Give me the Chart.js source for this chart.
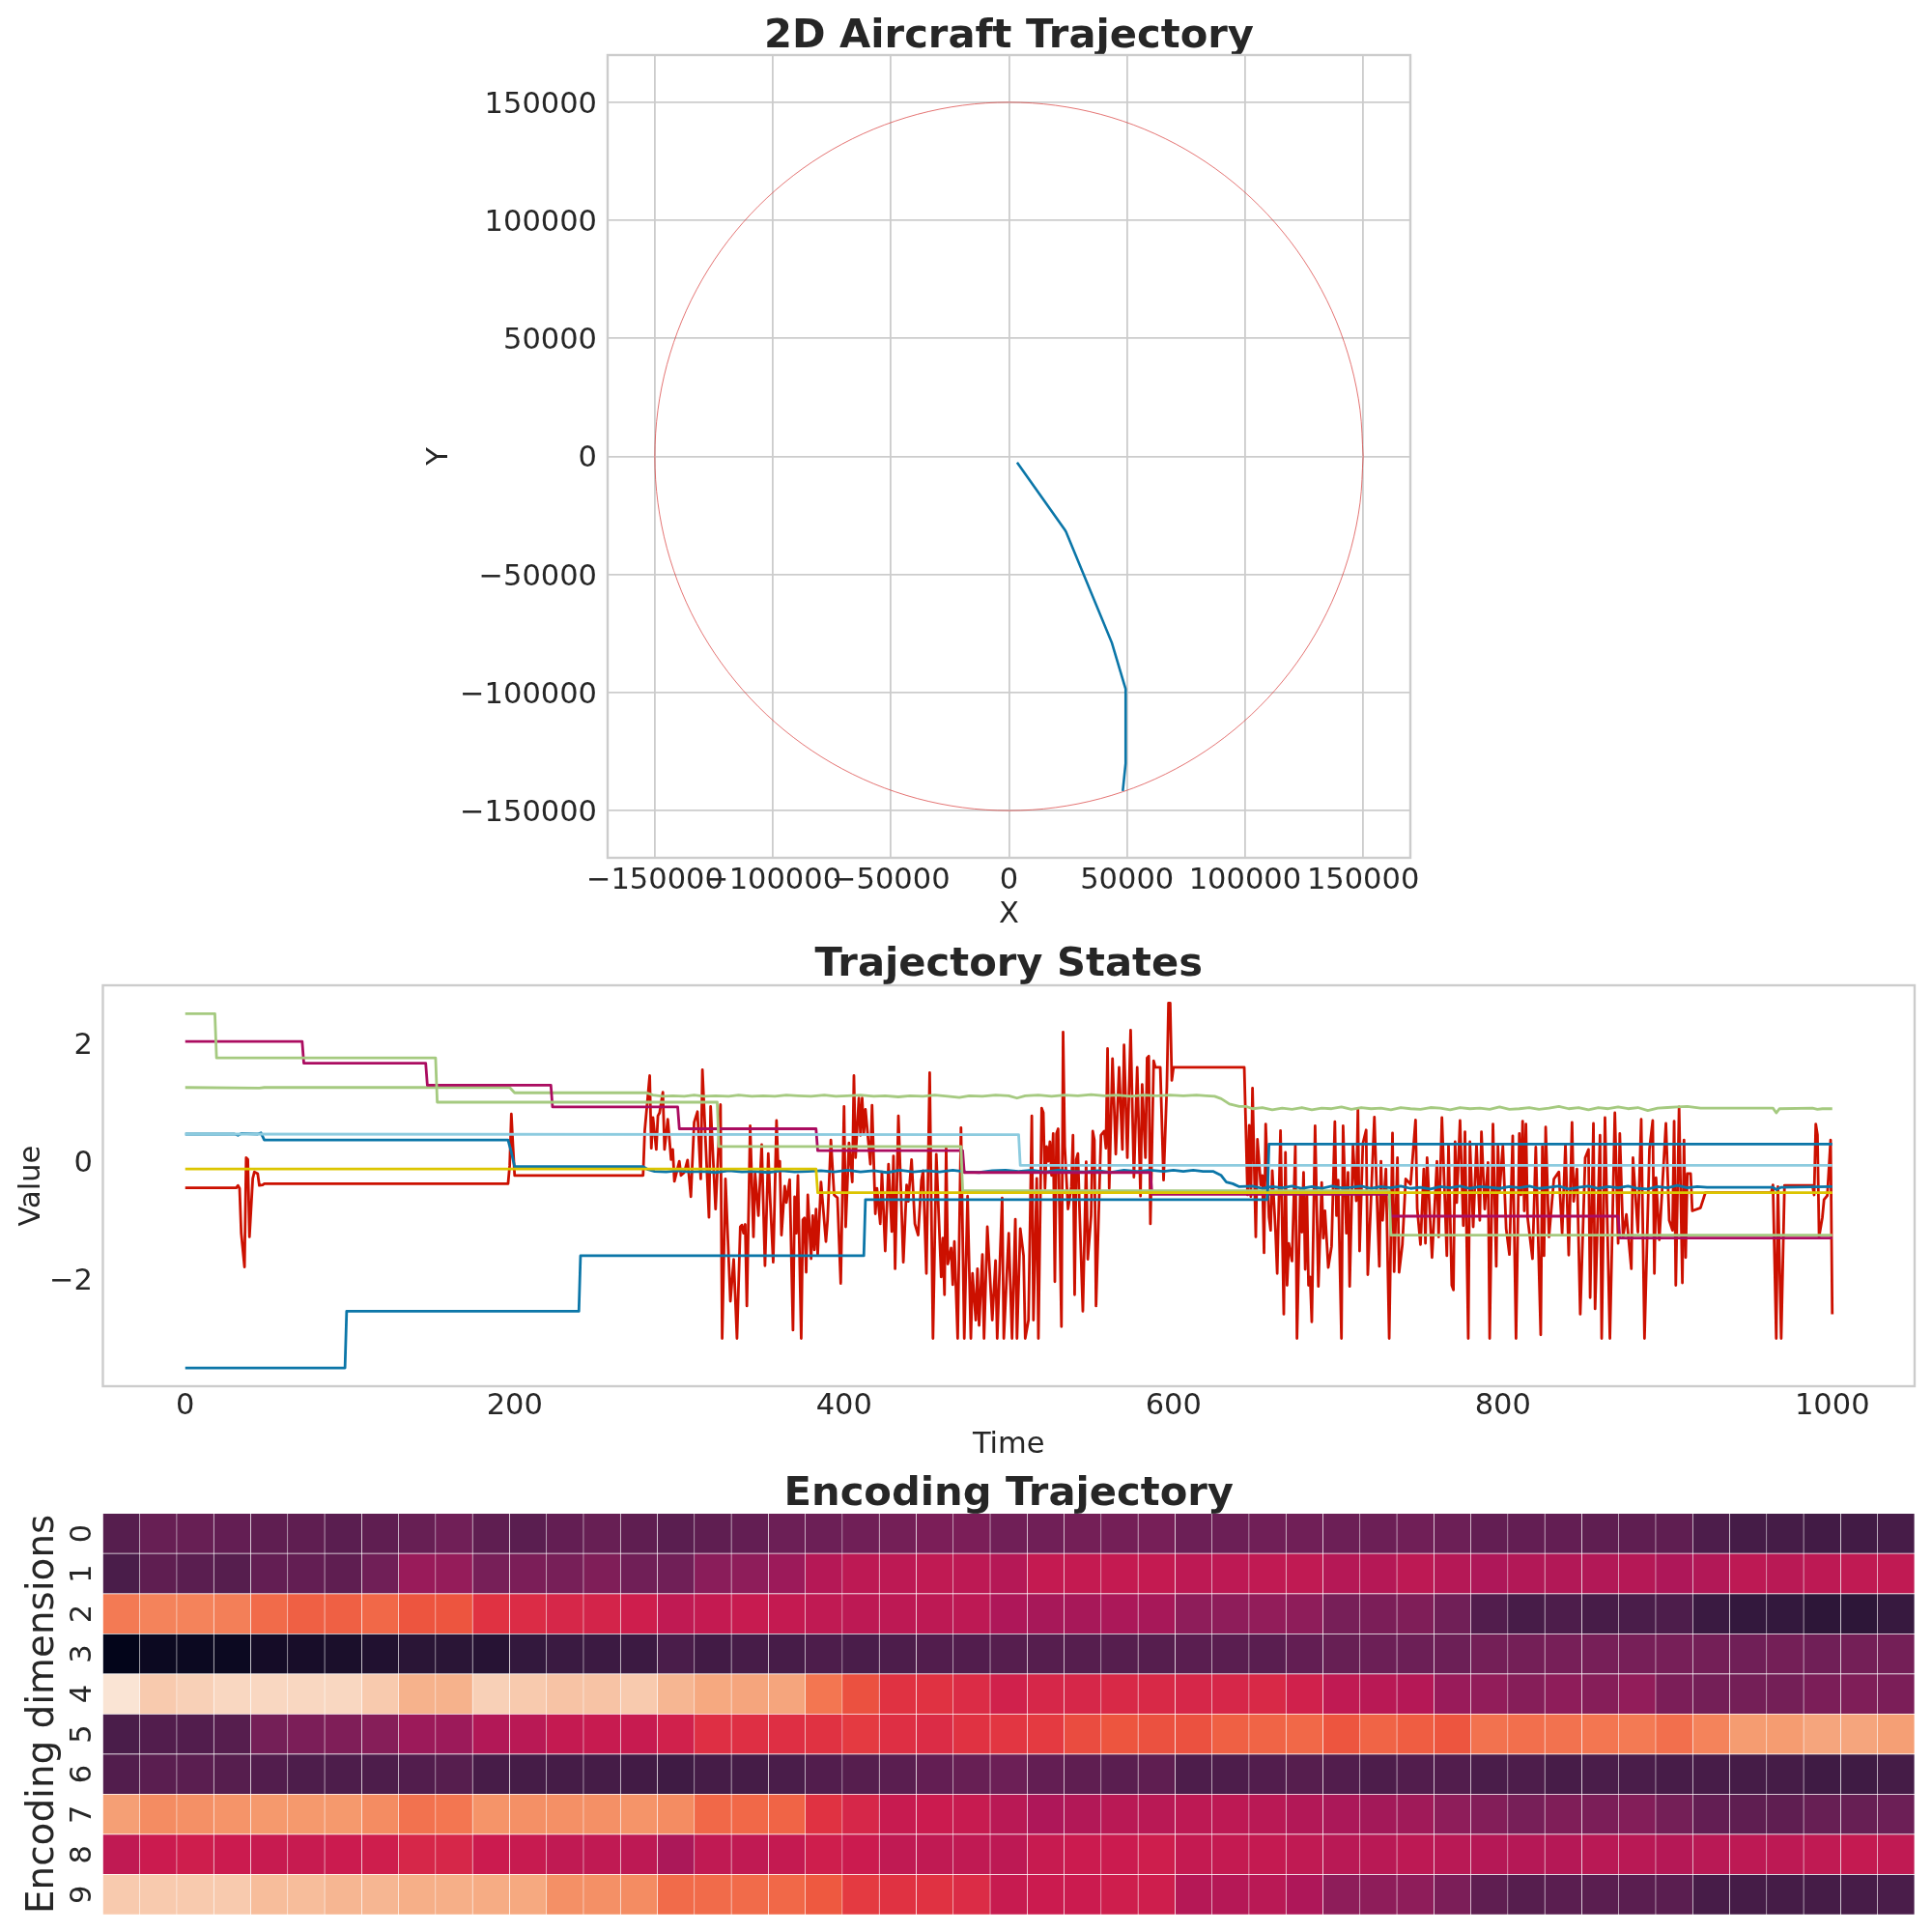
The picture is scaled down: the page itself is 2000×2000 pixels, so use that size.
<!DOCTYPE html>
<html>
<head>
<meta charset="utf-8">
<title>Aircraft trajectory</title>
<script src="https://cdn.jsdelivr.net/npm/chart.js@4/dist/chart.umd.min.js"></script>
<style>
	body { margin: 0; background: #fff; }
	canvas { position: absolute; left: 0; }
</style>
</head>
<body>
<canvas id="trajectory" width="2000" height="975" style="top:0"></canvas>
<canvas id="states" width="2000" height="545" style="top:975px"></canvas>
<canvas id="encoding" width="2000" height="480" style="top:1520px"></canvas>
<script>
// top panel
const planeTicks = [-150000, -100000, -50000, 0, 50000, 100000, 150000];
const circleX = [150000, 148717, 144889, 138582, 129904, 119003, 106066, 91314, 75000, 57403, 38823, 19579, 0, -19579, -38823, -57403, -75000, -91314, -106066, -119003, -129904, -138582, -144889, -148717, -150000, -148717, -144889, -138582, -129904, -119003, -106066, -91314, -75000, -57403, -38823, -19579, 0, 19579, 38823, 57403, 75000, 91314, 106066, 119003, 129904, 138582, 144889, 148717, 150000];
const circleY = [0, 19579, 38823, 57403, 75000, 91314, 106066, 119003, 129904, 138582, 144889, 148717, 150000, 148717, 144889, 138582, 129904, 119003, 106066, 91314, 75000, 57403, 38823, 19579, 0, -19579, -38823, -57403, -75000, -91314, -106066, -119003, -129904, -138582, -144889, -148717, -150000, -148717, -144889, -138582, -129904, -119003, -106066, -91314, -75000, -57403, -38823, -19579, 0];
const pathX = [3440, 23800, 24200, 43600, 48800, 49400, 49400, 48200];
const pathY = [-2600, -31300, -32000, -79000, -96500, -98500, -130000, -141700];

// middle panel, [time, value]
const timeTicks = [0, 200, 400, 600, 800, 1000];
const valueTicks = [-2, 0, 2];
const yellowState = [[0,-.13],[383,-.13],[384,-.53],[1000,-.53]];
const cyanState = [[0,.46],[506,.45],[507,-.07],[1000,-.07]];
const blueStep = [[0,-3.5],[97,-3.5],[98,-2.54],[239,-2.54],[240,-1.6],[412,-1.6],[413,-.65],[657,-.65],[658,.29],[1000,.29]];
const greenStep = [[0,2.5],[18,2.5],[19,1.75],[152,1.75],[153,1],[323,1],[324,.25],[471,.25],[472,-.5],[731,-.5],[732,-1.25],[1000,-1.25]];
const magentaStep = [[0,2.03],[71,2.03],[72,1.66],[146,1.66],[147,1.29],[222,1.29],[223,.92],[299,.92],[300,.55],[383,.55],[384,.18],[472,.18],[473,-.19],[586,-.19],[587,-.56],[731,-.56],[732,-.93],[870,-.93],[871,-1.3],[1000,-1.3]];
const greenWobble = [[0,1.25],[45,1.24],[48,1.25],[197,1.25],[200,1.16],[280,1.16],[284,1.12],[290,1.1],[296,1.11],[303,1.1],[309,1.12],[315,1.1],[322,1.11],[330,1.1],[336,1.12],[344,1.1],[351,1.11],[358,1.1],[365,1.12],[372,1.11],[380,1.1],[388,1.12],[395,1.1],[402,1.11],[410,1.12],[418,1.1],[425,1.11],[433,1.09],[440,1.11],[448,1.1],[455,1.12],[463,1.1],[470,1.08],[476,1.11],[484,1.1],[492,1.12],[500,1.11],[505,1.07],[510,1.11],[518,1.12],[526,1.1],[534,1.12],[542,1.11],[550,1.13],[558,1.11],[566,1.12],[574,1.1],[582,1.12],[590,1.11],[598,1.12],[606,1.11],[614,1.12],[620,1.11],[625,1.1],[629,1.06],[634,.97],[640,.93],[644,.93],[648,.89],[654,.91],[660,.87],[666,.9],[672,.88],[678,.91],[684,.87],[690,.9],[696,.89],[702,.92],[708,.88],[714,.91],[720,.89],[726,.9],[732,.87],[738,.91],[744,.89],[750,.88],[756,.91],[762,.9],[768,.87],[774,.91],[780,.89],[786,.9],[792,.88],[798,.92],[804,.88],[810,.89],[816,.91],[822,.88],[828,.9],[834,.93],[840,.89],[846,.91],[852,.87],[858,.91],[864,.89],[870,.92],[876,.89],[882,.91],[888,.86],[894,.9],[900,.91],[906,.92],[912,.93],[920,.9],[964,.9],[966,.82],[968,.89],[988,.9],[991,.88],[994,.89],[1000,.89]];
const blueWobble = [[0,.46],[30,.46],[32,.44],[34,.47],[44,.46],[46,.48],[48,.36],[196,.36],[198,.15],[200,-.09],[278,-.09],[281,-.14],[285,-.17],[292,-.18],[299,-.16],[306,-.18],[314,-.17],[322,-.19],[330,-.16],[338,-.18],[346,-.17],[354,-.19],[362,-.16],[370,-.18],[378,-.17],[386,-.16],[394,-.18],[402,-.15],[410,-.18],[418,-.16],[426,-.19],[434,-.15],[442,-.18],[450,-.16],[458,-.18],[466,-.15],[474,-.18],[482,-.19],[490,-.16],[498,-.15],[506,-.17],[514,-.15],[522,-.18],[530,-.15],[538,-.17],[546,-.18],[554,-.16],[562,-.19],[570,-.15],[578,-.17],[586,-.15],[594,-.17],[600,-.15],[606,-.17],[612,-.15],[618,-.17],[624,-.17],[629,-.24],[632,-.35],[636,-.38],[640,-.43],[648,-.42],[654,-.46],[660,-.43],[666,-.45],[672,-.42],[678,-.46],[684,-.43],[690,-.46],[696,-.42],[702,-.45],[708,-.44],[714,-.42],[720,-.46],[726,-.43],[732,-.45],[738,-.42],[744,-.46],[750,-.44],[756,-.47],[762,-.43],[768,-.45],[774,-.42],[780,-.46],[786,-.43],[792,-.44],[798,-.46],[804,-.43],[810,-.45],[816,-.42],[822,-.46],[828,-.44],[834,-.42],[840,-.47],[846,-.44],[852,-.42],[858,-.46],[864,-.43],[870,-.45],[876,-.42],[882,-.46],[888,-.47],[894,-.43],[900,-.45],[906,-.41],[912,-.45],[918,-.43],[924,-.44],[964,-.44],[966,-.48],[969,-.44],[1000,-.43]];
const redState = [[0,-.45],[31,-.45],[32,-.41],[33,-.46],[34,-1.22],[36,-1.79],[37,.06],[38,.03],[39,-1.28],[41,-.29],[42,-.18],[44,-.21],[45,-.41],[47,-.4],[48,-.38],[196,-.38],[197,-.07],[198,.8],[199,.25],[200,-.24],[278,-.24],
[279,.52],[282,1.45],[283,.22],[284,.74],[286,.2],[287,.77],[288,.82],[290,1.17],[291,.2],[293,.71],[295,.03],[296,.2],[297,-.34],[300,0],[301,-.24],[303,-.19],[305,.02],[307,-.6],[309,.66],[311,.84],[313,-.3],[314,1.55],[318,-.95],[319,.93],[322,-.81],[325,.96],[326,-3],[328,-.3],[331,-2.37],[333,-1.66],[335,-3],[337,-1.11],[338,-1.08],[339,-1.22],[340,-1.07],[341,-2.45],[343,.6],[345,-1.28],[346,-.21],[348,-.92],[350,.28],[352,-1.77],[354,.13],[355,-.56],[357,-1.71],[359,.69],[360,-.1],[361,0],[362,-1.25],[364,-.42],[365,-.7],[367,-.31],[369,-2.86],[370,-.6],[371,-1.22],[372,-.24],[374,-3],[375,-.99],[376,-.96],[377,-1.88],[378,-.57],[380,-1.65],[381,-.92],[382,-1.5],[383,-.81],[384,-1.58],[386,-.35],[389,-1.36],[390,-1],[392,.36],[394,-.57],[396,-.62],[398,-2.07],[400,.93],[401,-1.11],[403,.31],[405,-.35],[406,1.45],[407,.06],[409,1.07],[410,.44],[411,1.07],[412,.47],[413,.88],[416,-.05],[417,.95],[419,-.89],[420,-.46],[422,-1.06],[423,-.18],[425,-1.52],[427,-.05],[429,-1.19],[430,.09],[431,-1.82],[433,.77],[436,-1.71],[438,-.4],[439,-.68],[441,.03],[443,-1.06],[445,-1.25],[447,-.32],[448,-.16],[450,-1.9],[452,1.5],[454,-3],[456,.12],[459,-1.96],[460,-1.3],[461,-2.26],[462,.22],[463,-1.74],[465,-1.47],[466,-2.09],[467,-1.36],[469,-3],[471,.57],[473,-3],[475,-.59],[477,-3],[478,-1.9],[480,-2.69],[481,-1.82],[482,-2.78],[484,-1.58],[485,-3],[487,-1.11],[490,-2.69],[492,-1.68],[493,-3],[496,-.62],[497,-3],[500,-1.22],[502,-3],[504,-.98],[505,-3],[507,-1.14],[509,-1.6],[510,-3],[512,-2.69],[514,.77],[515,-2.69],[517,-.29],[518,-3],[520,.9],[521,.82],[522,-.46],[523,.25],[524,0],[525,.33],[526,-.24],[527,.47],[528,-2.04],[529,.47],[530,.55],[532,-2.8],[533,2.19],[534,.25],[536,-.81],[538,-.43],[539,.44],[540,-2.26],[541,.03],[542,.13],[543,-.84],[545,-2.54],[547,-.01],[548,-1.66],[550,-.92],[551,.51],[552,.36],[553,-2.45],[555,-.51],[556,.44],[558,.51],[559,.22],[560,1.91],[561,-.46],[563,1.74],[565,.12],[567,1.59],[569,.2],[570,1.97],[572,.06],[574,2.22],[576,-.27],[578,1.59],[580,-.59],[581,1.3],[583,.06],[584,1.75],[585,1.78],[586,-1.06],[588,1.7],[589,1.59],[592,1.59],[594,-.32],[596,1.26],[597,2.68],[598,2.68],[599,1.37],[600,1.59],
[643,1.59],[645,-.57],[646,.61],[647,-.6],[648,1.24],[650,-1.28],[651,.37],[653,-.4],[654,-.24],[655,-1.55],[656,.63],[658,-.95],[659,-1.17],[660,-.16],[662,-1.2],[663,-1.9],[665,.52],[667,-2.59],[668,.15],[669,-2.1],[670,-1.39],[672,-1.69],[674,.26],[675,-3],[677,-.49],[678,-1.2],[679,-.19],[680,-1.83],[681,-.51],[682,-2.1],[683,-1.96],[684,-2.72],[686,.6],[688,-2.12],[690,-.36],[691,-1.3],[692,-.84],[694,-1.8],[696,-1.44],[698,.67],[699,-.92],[700,-.32],[702,-3],[703,.6],[705,-1.22],[706,-.19],[707,-2.12],[709,.26],[711,-.67],[712,.88],[713,-1.52],[715,.3],[717,.53],[718,-1.92],[720,-.62],[722,.75],[724,-1],[725,-1.78],[726,0],[727,-1],[729,-.13],[731,-3],[733,.48],[734,-1.87],[736,.06],[737,-1.88],[739,-1.41],[741,-.3],[744,-.39],[747,.7],[748,-.8],[750,-1.41],[752,-.13],[753,-1.39],[754,.06],[757,-1.63],[760,0],[761,-1.28],[763,.74],[766,-1.6],[767,.28],[769,-2.1],[770,-2.18],[771,.33],[772,-.7],[774,.69],[776,-1.09],[777,.5],[779,-3],[780,.33],[782,-1.11],[784,.28],[786,-1],[787,.5],[789,-.81],[791,-.02],[792,-3],[794,.63],[796,-1.78],[797,.26],[798,-.5],[800,.26],[802,-1.14],[804,-1.58],
[806,.43],[808,-3],[810,.47],[811,-.57],[812,.68],[813,-.84],[814,.63],[815,-.95],[818,-1.65],[820,.24],[823,-2.94],[824,.25],[825,-1.6],[826,.58],[828,-1.28],[831,-.3],[834,-.18],[836,-1.22],[838,.28],[840,-1.59],[842,.66],[843,-.68],[845,-.13],[847,-2.59],[850,.06],[852,.2],[853,-2.31],[855,.64],[856,-2.5],[859,.44],[860,-3],[862,.74],[865,-3],[868,.82],[870,-1.39],[871,.47],[873,-1.28],[875,-.9],[878,-1.82],[879,.06],[882,-1.2],[884,.71],[886,-3],[889,.2],[891,.69],[892,-1.9],[893,-.28],[895,-1.33],[899,.64],[901,-1],[903,-1.17],[904,.68],[905,-2.1],[907,.92],[909,-2.06],[910,.36],[911,-1.63],[912,-.21],[914,-.21],[915,-.84],[920,-.79],[923,-.53],[963,-.53],[964,-.4],[966,-3],[967,-.43],[969,-3],[971,-.41],[988,-.41],[989,-.57],[990,.63],[991,.45],[992,-1.28],[994,-.95],[995,-.65],[997,-.58],[999,.36],[1000,-2.59]];

// bottom panel, one row per encoding dimension, position along the rocket colormap
const encodingLabels = ['0', '1', '2', '3', '4', '5', '6', '7', '8', '9'];
const encodingValues = [
	[.19,.23,.23,.22,.21,.21,.2,.21,.23,.25,.21,.2,.22,.23,.21,.2,.21,.22,.24,.24,.25,.26,.28,.28,.25,.25,.26,.26,.27,.24,.24,.25,.25,.24,.24,.25,.24,.22,.22,.22,.21,.21,.21,.17,.14,.14,.13,.13,.15],
	[.16,.21,.2,.19,.22,.22,.21,.25,.36,.35,.27,.28,.27,.29,.25,.25,.32,.33,.37,.44,.46,.46,.47,.46,.44,.48,.48,.48,.48,.46,.46,.47,.47,.44,.44,.46,.44,.42,.43,.43,.43,.44,.42,.43,.46,.45,.46,.47,.47],
	[.76,.78,.78,.77,.72,.69,.69,.71,.66,.66,.58,.56,.54,.53,.51,.47,.48,.49,.48,.47,.46,.46,.46,.46,.42,.4,.4,.41,.4,.33,.33,.34,.33,.27,.28,.29,.25,.18,.15,.17,.15,.16,.17,.1,.08,.08,.07,.07,.09],
	[0,.015,.015,.015,.03,.035,.04,.05,.065,.065,.06,.08,.1,.11,.11,.16,.13,.15,.15,.17,.16,.17,.18,.18,.19,.19,.19,.19,.19,.2,.2,.2,.22,.23,.24,.24,.24,.26,.26,.27,.27,.27,.27,.26,.25,.26,.25,.26,.26],
	[.99,.95,.96,.97,.97,.97,.97,.95,.91,.91,.96,.95,.94,.94,.95,.92,.88,.87,.87,.75,.65,.58,.58,.56,.52,.54,.54,.55,.55,.54,.54,.55,.52,.47,.45,.44,.36,.34,.31,.33,.31,.34,.28,.26,.26,.26,.28,.29,.28],
	[.16,.18,.18,.19,.26,.28,.29,.31,.37,.37,.43,.45,.48,.49,.49,.52,.57,.57,.57,.58,.6,.57,.56,.58,.59,.6,.64,.66,.65,.65,.69,.7,.71,.66,.7,.68,.66,.74,.73,.74,.75,.76,.73,.78,.84,.84,.87,.87,.85],
	[.18,.2,.2,.19,.18,.17,.17,.17,.18,.19,.15,.14,.14,.14,.13,.12,.14,.14,.16,.18,.19,.2,.22,.23,.24,.22,.21,.2,.21,.17,.17,.18,.19,.18,.17,.18,.18,.16,.17,.15,.16,.16,.15,.15,.14,.14,.12,.12,.14],
	[.85,.8,.81,.82,.83,.83,.83,.8,.74,.75,.82,.81,.81,.81,.82,.8,.71,.71,.7,.58,.54,.49,.5,.49,.45,.42,.43,.45,.45,.46,.46,.45,.43,.41,.39,.38,.33,.3,.27,.29,.28,.3,.26,.22,.21,.21,.23,.23,.24],
	[.47,.5,.51,.5,.49,.49,.5,.51,.54,.54,.5,.49,.47,.47,.46,.41,.47,.47,.48,.51,.5,.47,.47,.47,.46,.49,.5,.5,.51,.48,.48,.48,.47,.45,.45,.46,.45,.44,.44,.44,.45,.45,.44,.45,.46,.46,.47,.48,.47],
	[.95,.95,.95,.95,.93,.93,.92,.92,.9,.9,.89,.88,.81,.81,.8,.72,.72,.72,.71,.67,.6,.58,.58,.56,.49,.5,.5,.51,.51,.44,.44,.45,.42,.33,.33,.33,.28,.21,.19,.2,.2,.2,.2,.15,.14,.14,.14,.15,.16]
];

const FONT = '"DejaVu Sans"';
const INK = '#262626';
const LIGHT = '#cccccc';
const rocketStops = [
	[0, [3, 5, 26]], [.083, [53, 25, 62]], [.167, [76, 29, 75]], [.25, [112, 31, 87]], [.333, [143, 29, 90]],
	[.417, [173, 23, 89]], [.5, [203, 27, 79]], [.583, [225, 51, 66]], [.667, [238, 88, 63]], [.75, [243, 118, 81]],
	[.833, [245, 154, 110]], [.917, [246, 180, 143]], [1, [250, 235, 221]]
];

function rocket(v) {
	let i = 0;
	while (i < rocketStops.length - 2 && v > rocketStops[i + 1][0]) i++;
	const a = rocketStops[i], b = rocketStops[i + 1];
	const f = (v - a[0]) / (b[0] - a[0]);
	const c = a[1].map((n, k) => Math.round(n + (b[1][k] - n) * f));
	return 'rgb(' + c.join(',') + ')';
}

function minus(v) {
	return String(v).replace('-', '\u2212');
}

function pairs(list) {
	return list.map(p => ({x: p[0], y: p[1]}));
}

function lineSet(list, color) {
	return {data: pairs(list), borderColor: color, borderWidth: 2.8, pointRadius: 0, showLine: true, fill: false, borderJoinStyle: 'round'};
}

const spines = {
	id: 'spines',
	afterDatasetsDraw(chart) {
		const a = chart.chartArea, ctx = chart.ctx;
		ctx.save();
		ctx.strokeStyle = LIGHT;
		ctx.lineWidth = 2.4;
		ctx.strokeRect(a.left, a.top, a.right - a.left, a.bottom - a.top);
		ctx.restore();
	}
};

function titleOpts(text, top, bottom) {
	return {display: true, fullSize: false, text: text, color: INK, font: {family: FONT, size: 41.67, weight: 'bold', lineHeight: 1}, padding: {top: top, bottom: bottom}};
}

function tickOpts(padding, fmt, shift) {
	return {color: INK, font: {family: FONT, size: 30.5}, padding: padding, labelOffset: shift || 0, autoSkip: false, maxRotation: 0, callback: fmt};
}

function axisTitle(text, pad) {
	return {display: true, text: text, color: INK, font: {family: FONT, size: 30.5}, padding: pad};
}

new Chart(document.getElementById('trajectory'), {
	type: 'scatter',
	data: {datasets: [
		{data: pathX.map((x, i) => ({x: x, y: pathY[i]})), borderColor: '#0b76a8', borderWidth: 2.6, pointRadius: 0, showLine: true},
		{data: circleX.map((x, i) => ({x: x, y: circleY[i]})), borderColor: '#d93a38', borderWidth: 0.7, pointRadius: 0, showLine: true, tension: 0.33}
	]},
	options: {
		responsive: false, animation: false, devicePixelRatio: 1,
		layout: {padding: {left: 429, right: 540, top: 0, bottom: 7}},
		plugins: {legend: {display: false}, tooltip: {enabled: false}, title: titleOpts('2D Aircraft Trajectory', 17.7, -2.37)},
		scales: {
			x: {
				type: 'linear', min: -170000, max: 170000,
				grid: {color: LIGHT, lineWidth: 1.8, drawTicks: false},
				border: {display: false},
				ticks: tickOpts(6, minus),
				title: axisTitle('X', {top: 0, bottom: 2.2}),
				afterBuildTicks(s) { s.ticks = planeTicks.map(v => ({value: v})); },
				afterFit(s) { s.height = 80; }
			},
			y: {
				type: 'linear', min: -170000, max: 170000,
				grid: {color: LIGHT, lineWidth: 1.8, drawTicks: false},
				border: {display: false},
				ticks: tickOpts(11, minus, 3),
				title: axisTitle('Y', {top: 7.7, bottom: 0}),
				afterBuildTicks(s) { s.ticks = planeTicks.map(v => ({value: v})); },
				afterFit(s) { s.width = 200; }
			}
		}
	},
	plugins: [spines]
});

new Chart(document.getElementById('states'), {
	type: 'scatter',
	data: {datasets: [
		lineSet(yellowState, '#dcc500'),
		lineSet(cyanState, '#8ccbdf'),
		lineSet(blueStep, '#0b76a8'),
		lineSet(greenStep, '#a5ca80'),
		lineSet(magentaStep, '#ab0c60'),
		lineSet(greenWobble, '#a5ca80'),
		lineSet(blueWobble, '#0b76a8'),
		lineSet(redState, '#cc1000')
	]},
	options: {
		responsive: false, animation: false, devicePixelRatio: 1,
		layout: {padding: {left: 0, right: 18, top: 0, bottom: 5}},
		plugins: {legend: {display: false}, tooltip: {enabled: false}, title: titleOpts('Trajectory States', 3.7, -0.37)},
		scales: {
			x: {
				type: 'linear', min: -50, max: 1050,
				grid: {display: false, drawTicks: false},
				border: {display: false},
				ticks: tickOpts(3, minus),
				title: axisTitle('Time', {top: 0, bottom: 0.7}),
				afterBuildTicks(s) { s.ticks = timeTicks.map(v => ({value: v})); },
				afterFit(s) { s.height = 80; }
			},
			y: {
				type: 'linear', min: -3.81, max: 2.98,
				grid: {display: false, drawTicks: false},
				border: {display: false},
				ticks: tickOpts(10.5, minus, 3),
				title: axisTitle('Value', {top: 14.7, bottom: 0}),
				afterBuildTicks(s) { s.ticks = valueTicks.map(v => ({value: v})); },
				afterFit(s) { s.width = 106.5; }
			}
		}
	},
	plugins: [spines]
});

const cellColumns = encodingValues[0].map((_, c) => c);
new Chart(document.getElementById('encoding'), {
	type: 'bar',
	data: {
		labels: encodingLabels,
		datasets: cellColumns.map(c => ({
			data: encodingValues.map(() => [c, c + 1]),
			backgroundColor: encodingValues.map(row => rocket(row[c])),
			borderColor: '#ffffff',
			borderWidth: 0.7,
			barPercentage: 1,
			categoryPercentage: 1,
			grouped: false
		}))
	},
	options: {
		indexAxis: 'y',
		responsive: false, animation: false, devicePixelRatio: 1,
		layout: {padding: {left: 0, right: 18, top: 0, bottom: 18}},
		plugins: {legend: {display: false}, tooltip: {enabled: false}, title: titleOpts('Encoding Trajectory', 6.3, -1.27)},
		scales: {
			x: {type: 'linear', min: 0, max: cellColumns.length, display: false},
			y: {
				type: 'category',
				grid: {display: false, drawTicks: false},
				border: {display: false},
				ticks: {color: INK, font: {family: FONT, size: 30.5}, padding: 10.8, autoSkip: false, minRotation: 90, maxRotation: 90, crossAlign: 'center'},
				title: {display: true, text: 'Encoding dimensions', color: INK, font: {family: FONT, size: 38.9}, padding: {top: 21.5, bottom: 0}},
				afterFit(s) {
					s.width = 106.5;
					// rotated labels would otherwise reserve room below the last row
					s.paddingTop = 0;
					s.paddingBottom = 0;
				}
			}
		}
	}
});
</script>
</body>
</html>
